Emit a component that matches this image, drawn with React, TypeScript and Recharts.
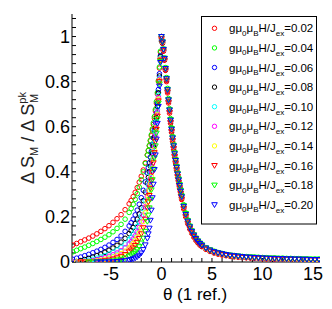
import React from 'react';
import { Scatter, ScatterChart, XAxis, YAxis } from 'recharts';

// theta (1 ref.) sample positions shared by all field series
const theta = [
  -8.8, -8.4, -8, -7.6, -7.2, -6.8, -6.4, -6, -5.6, -5.2, -4.8, -4.4, -4, -3.6, -3.2,
  -3, -2.8, -2.6, -2.4, -2.2, -2, -1.8, -1.6, -1.4,
  -1.3, -1.2, -1.1, -1, -0.9, -0.8, -0.7, -0.6, -0.5, -0.4, -0.3, -0.2, -0.1,
  0,
  0.1, 0.2, 0.3, 0.4, 0.5, 0.6, 0.7, 0.8, 0.9, 1, 1.1, 1.2, 1.3,
  1.4, 1.5, 1.6, 1.7, 1.8, 1.9, 2,
  2.2, 2.4, 2.6, 2.8, 3, 3.2, 3.4, 3.6, 3.8, 4,
  4.4, 4.8, 5.2, 5.6, 6, 6.4, 6.8, 7.2, 7.6, 8, 8.4, 8.8, 9.2, 9.6, 10, 10.4, 10.8, 11.2, 11.6, 12,
  12.4, 12.8, 13.2, 13.6, 14, 14.4, 14.8, 15.2, 15.6,
];

const h002 = [
  0.075, 0.082, 0.09, 0.098, 0.106, 0.115, 0.125, 0.136, 0.148, 0.161, 0.176, 0.192, 0.21, 0.232, 0.258,
  0.273, 0.29, 0.309, 0.33, 0.354, 0.38, 0.408, 0.44, 0.475,
  0.494, 0.515, 0.537, 0.56, 0.585, 0.61, 0.638, 0.67, 0.705, 0.745, 0.8, 0.86, 0.93,
  1,
  0.97, 0.935, 0.895, 0.85, 0.8, 0.75, 0.705, 0.66, 0.615, 0.575, 0.535, 0.5, 0.465,
  0.435, 0.405, 0.375, 0.35, 0.325, 0.3, 0.277,
  0.235, 0.2, 0.17, 0.146, 0.127, 0.11, 0.096, 0.085, 0.075, 0.068,
  0.056, 0.047, 0.04, 0.035, 0.031, 0.028, 0.025, 0.023, 0.021, 0.02, 0.019, 0.018, 0.017, 0.016, 0.015,
  0.014, 0.014, 0.013, 0.013, 0.012, 0.012, 0.011, 0.011, 0.01, 0.01, 0.01, 0.009, 0.009, 0.009,
];
const h004 = [
  0.045, 0.052, 0.059, 0.066, 0.074, 0.082, 0.091, 0.1, 0.11, 0.121, 0.134, 0.149, 0.167, 0.19, 0.22,
  0.237, 0.256, 0.278, 0.303, 0.332, 0.365, 0.4, 0.437, 0.474,
  0.495, 0.517, 0.54, 0.565, 0.59, 0.617, 0.645, 0.677, 0.712, 0.752, 0.805, 0.865, 0.935,
  0.99,
  0.978, 0.945, 0.905, 0.862, 0.818, 0.77, 0.725, 0.68, 0.636, 0.596, 0.557, 0.522, 0.488,
  0.457, 0.427, 0.398, 0.372, 0.347, 0.323, 0.298,
  0.254, 0.218, 0.187, 0.161, 0.14, 0.122, 0.107, 0.095, 0.085, 0.077,
  0.064, 0.055, 0.048, 0.042, 0.038, 0.034, 0.031, 0.029, 0.027, 0.025, 0.024, 0.023, 0.022, 0.021, 0.02,
  0.019, 0.018, 0.018, 0.017, 0.017, 0.016, 0.016, 0.015, 0.015, 0.014, 0.014, 0.013, 0.013, 0.013,
];
const h006 = [
  0.012, 0.017, 0.022, 0.028, 0.034, 0.041, 0.048, 0.056, 0.065, 0.075, 0.087, 0.1, 0.116, 0.136, 0.16,
  0.174, 0.19, 0.209, 0.23, 0.256, 0.285, 0.318, 0.355, 0.395,
  0.418, 0.44, 0.465, 0.49, 0.52, 0.55, 0.585, 0.62, 0.66, 0.705, 0.765, 0.835, 0.915,
  1,
  0.975, 0.94, 0.9, 0.855, 0.81, 0.76, 0.715, 0.67, 0.625, 0.585, 0.545, 0.51, 0.475,
  0.445, 0.415, 0.385, 0.36, 0.335, 0.31, 0.285,
  0.243, 0.208, 0.178, 0.153, 0.133, 0.116, 0.102, 0.09, 0.08, 0.072,
  0.06, 0.051, 0.044, 0.039, 0.035, 0.031, 0.028, 0.026, 0.024, 0.022, 0.021, 0.02, 0.019, 0.018, 0.017,
  0.016, 0.015, 0.015, 0.014, 0.014, 0.013, 0.013, 0.012, 0.012, 0.011, 0.011, 0.01, 0.01, 0.01,
];
const h008 = [
  0, 0.002, 0.006, 0.011, 0.016, 0.022, 0.028, 0.035, 0.043, 0.052, 0.062, 0.074, 0.088, 0.105, 0.126,
  0.139, 0.153, 0.17, 0.19, 0.213, 0.24, 0.272, 0.31, 0.35,
  0.375, 0.4, 0.425, 0.45, 0.482, 0.515, 0.555, 0.595, 0.64, 0.69, 0.75, 0.825, 0.91,
  0.98,
  0.972, 0.938, 0.898, 0.853, 0.807, 0.758, 0.712, 0.668, 0.622, 0.582, 0.543, 0.507, 0.472,
  0.442, 0.412, 0.383, 0.357, 0.332, 0.307, 0.283,
  0.241, 0.206, 0.176, 0.151, 0.131, 0.115, 0.101, 0.089, 0.079, 0.071,
  0.059, 0.05, 0.043, 0.038, 0.034, 0.031, 0.028, 0.026, 0.024, 0.022, 0.021, 0.02, 0.019, 0.018, 0.017,
  0.016, 0.015, 0.015, 0.014, 0.013, 0.013, 0.012, 0.012, 0.011, 0.011, 0.011, 0.01, 0.01, 0.01,
];
const h010 = [
  0, 0, 0.001, 0.004, 0.008, 0.012, 0.017, 0.022, 0.028, 0.035, 0.043, 0.053, 0.065, 0.08, 0.099,
  0.11, 0.124, 0.14, 0.158, 0.18, 0.205, 0.236, 0.272, 0.315,
  0.34, 0.365, 0.392, 0.42, 0.455, 0.49, 0.53, 0.575, 0.622, 0.675, 0.74, 0.815, 0.905,
  1,
  0.976, 0.942, 0.902, 0.857, 0.812, 0.762, 0.717, 0.672, 0.627, 0.587, 0.547, 0.512, 0.477,
  0.447, 0.416, 0.386, 0.361, 0.336, 0.311, 0.286,
  0.244, 0.209, 0.179, 0.154, 0.134, 0.117, 0.103, 0.091, 0.081, 0.073,
  0.061, 0.052, 0.045, 0.04, 0.036, 0.032, 0.029, 0.027, 0.025, 0.023, 0.022, 0.021, 0.02, 0.019, 0.018,
  0.017, 0.016, 0.016, 0.015, 0.015, 0.014, 0.014, 0.013, 0.013, 0.012, 0.012, 0.011, 0.011, 0.011,
];
const h012 = [
  0, 0, 0, 0.001, 0.003, 0.006, 0.01, 0.014, 0.019, 0.025, 0.032, 0.04, 0.05, 0.063, 0.08,
  0.09, 0.102, 0.116, 0.133, 0.153, 0.178, 0.208, 0.245, 0.29,
  0.315, 0.34, 0.37, 0.4, 0.435, 0.47, 0.512, 0.56, 0.61, 0.665, 0.73, 0.81, 0.9,
  0.99,
  0.974, 0.939, 0.899, 0.854, 0.809, 0.759, 0.714, 0.669, 0.624, 0.584, 0.544, 0.509, 0.474,
  0.444, 0.414, 0.384, 0.359, 0.334, 0.309, 0.284,
  0.242, 0.207, 0.177, 0.152, 0.132, 0.116, 0.102, 0.09, 0.08, 0.072,
  0.06, 0.051, 0.044, 0.039, 0.035, 0.031, 0.028, 0.026, 0.024, 0.022, 0.021, 0.02, 0.019, 0.018, 0.017,
  0.016, 0.015, 0.015, 0.014, 0.014, 0.013, 0.013, 0.012, 0.012, 0.011, 0.011, 0.01, 0.01, 0.01,
];
const h014 = [
  null, 0, 0, 0, 0.001, 0.002, 0.005, 0.008, 0.012, 0.017, 0.022, 0.029, 0.037, 0.048, 0.062,
  0.071, 0.082, 0.095, 0.11, 0.129, 0.152, 0.18, 0.218, 0.265,
  0.29, 0.318, 0.348, 0.38, 0.415, 0.455, 0.498, 0.545, 0.597, 0.655, 0.722, 0.805, 0.9,
  1,
  0.975, 0.941, 0.901, 0.856, 0.811, 0.761, 0.716, 0.671, 0.626, 0.586, 0.546, 0.511, 0.476,
  0.446, 0.415, 0.385, 0.36, 0.335, 0.31, 0.285,
  0.243, 0.208, 0.178, 0.153, 0.133, 0.116, 0.102, 0.09, 0.08, 0.072,
  0.06, 0.051, 0.044, 0.039, 0.035, 0.031, 0.028, 0.026, 0.024, 0.022, 0.021, 0.02, 0.019, 0.018, 0.017,
  0.016, 0.015, 0.015, 0.014, 0.014, 0.013, 0.013, 0.012, 0.012, 0.011, 0.011, 0.01, 0.01, 0.01,
];
const h016 = [
  null, null, 0, 0, 0, 0, 0.001, 0.003, 0.006, 0.009, 0.013, 0.018, 0.025, 0.033, 0.045,
  0.053, 0.062, 0.073, 0.087, 0.104, 0.125, 0.152, 0.19, 0.24,
  0.267, 0.295, 0.327, 0.36, 0.398, 0.44, 0.485, 0.535, 0.588, 0.647, 0.715, 0.8, 0.895,
  0.99,
  0.973, 0.937, 0.896, 0.851, 0.805, 0.755, 0.71, 0.665, 0.62, 0.58, 0.54, 0.505, 0.47,
  0.44, 0.41, 0.38, 0.355, 0.33, 0.305, 0.28,
  0.238, 0.203, 0.173, 0.149, 0.129, 0.113, 0.099, 0.087, 0.077, 0.07,
  0.058, 0.049, 0.042, 0.037, 0.033, 0.03, 0.027, 0.025, 0.023, 0.021, 0.02, 0.019, 0.018, 0.017, 0.016,
  0.015, 0.015, 0.014, 0.014, 0.013, 0.013, 0.012, 0.012, 0.011, 0.011, 0.01, 0.01, 0.01, 0.01,
];
const h018 = [
  null, null, null, null, 0, 0, 0, 0, 0.001, 0.003, 0.005, 0.008, 0.012, 0.018, 0.026,
  0.031, 0.037, 0.045, 0.055, 0.068, 0.084, 0.106, 0.136, 0.18,
  0.208, 0.24, 0.278, 0.32, 0.365, 0.412, 0.462, 0.515, 0.572, 0.635, 0.705, 0.79, 0.89,
  1,
  0.977, 0.944, 0.904, 0.86, 0.815, 0.766, 0.721, 0.676, 0.632, 0.592, 0.553, 0.518, 0.484,
  0.453, 0.423, 0.393, 0.368, 0.343, 0.318, 0.293,
  0.25, 0.215, 0.184, 0.159, 0.138, 0.121, 0.106, 0.094, 0.084, 0.076,
  0.063, 0.054, 0.047, 0.041, 0.037, 0.033, 0.03, 0.028, 0.026, 0.024, 0.023, 0.022, 0.021, 0.02, 0.019,
  0.018, 0.017, 0.017, 0.016, 0.016, 0.015, 0.015, 0.014, 0.014, 0.013, 0.013, 0.012, 0.012, 0.012,
];
const h020 = [
  null, null, null, null, null, null, 0, 0, 0, 0, 0.001, 0.002, 0.004, 0.006, 0.009,
  0.011, 0.014, 0.018, 0.023, 0.03, 0.04, 0.055, 0.076, 0.105,
  0.125, 0.15, 0.185, 0.23, 0.285, 0.345, 0.41, 0.475, 0.545, 0.615, 0.69, 0.78, 0.885,
  1,
  0.976, 0.943, 0.903, 0.858, 0.813, 0.764, 0.719, 0.674, 0.629, 0.589, 0.55, 0.515, 0.48,
  0.45, 0.42, 0.39, 0.364, 0.339, 0.314, 0.289,
  0.247, 0.211, 0.181, 0.156, 0.136, 0.119, 0.104, 0.092, 0.082, 0.074,
  0.062, 0.053, 0.046, 0.041, 0.037, 0.033, 0.03, 0.028, 0.026, 0.024, 0.022, 0.021, 0.02, 0.019, 0.018,
  0.017, 0.016, 0.016, 0.015, 0.015, 0.014, 0.014, 0.013, 0.013, 0.012, 0.012, 0.011, 0.011, 0.011,
];

const seriesValues = [h002, h004, h006, h008, h010, h012, h014, h016, h018, h020];
const fieldLabels = ['0.02', '0.04', '0.06', '0.08', '0.10', '0.12', '0.14', '0.16', '0.18', '0.20'];
const seriesColors = ['#ff0000', '#00ff00', '#0000ff', '#000000', '#00ffff', '#ff00ff', '#ffff00', '#ff0000', '#00ff00', '#0000ff'];
const seriesMarkers = ['o', 'o', 'o', 'o', 'o', 'o', 'o', 'v', 'v', 'v'];

const xTicks = [-8, -7, -6, -5, -4, -3, -2, -1, 0, 1, 2, 3, 4, 5, 6, 7, 8, 9, 10, 11, 12, 13, 14, 15];
const xMajor = [-5, 0, 5, 10, 15];
const yTicks = [
  0, 0.04, 0.08, 0.12, 0.16, 0.2, 0.24, 0.28, 0.32, 0.36, 0.4, 0.44, 0.48, 0.52, 0.56, 0.6, 0.64, 0.68,
  0.72, 0.76, 0.8, 0.84, 0.88, 0.92, 0.96, 1, 1.04, 1.08,
];
const yMajor = [0, 0.2, 0.4, 0.6, 0.8, 1];

const FONT = '"Liberation Sans", Arial, Helvetica, sans-serif';
const X_DOMAIN = [-8.86, 15.7];
const Y_DOMAIN = [0, 1.1];

const markerShape = (color: string, marker: string) => (props: any) => {
  const { cx, cy } = props;
  if (cx == null || cy == null) return <g />;
  if (marker === 'v') {
    return (
      <polygon
        points={`${cx - 2.8},${cy - 2} ${cx + 2.8},${cy - 2} ${cx},${cy + 2.8}`}
        fill="none"
        stroke={color}
        strokeWidth={1}
      />
    );
  }
  return <circle cx={cx} cy={cy} r={2.3} fill="none" stroke={color} strokeWidth={1} />;
};

const fmtX = (v: number) => (xMajor.includes(v) ? String(v) : '');
const fmtY = (v: number) => {
  const hit = yMajor.find((m) => Math.abs(m - v) < 1e-6);
  return hit === undefined ? '' : String(hit);
};

const LegendMarker = ({ x, y, color, marker }: { x: number; y: number; color: string; marker: string }) =>
  marker === 'v' ? (
    <polygon
      points={`${x - 2.8},${y - 2} ${x + 2.8},${y - 2} ${x},${y + 2.8}`}
      fill="none"
      stroke={color}
      strokeWidth={1}
    />
  ) : (
    <circle cx={x} cy={y} r={2.2} fill="none" stroke={color} strokeWidth={1} />
  );

const Overlay = () => (
  <svg width={332} height={309} style={{ position: 'absolute', left: 0, top: 0, pointerEvents: 'none' }}>
    {/* legend */}
    <rect x={201.5} y={16.5} width={115} height={207.5} fill="#fff" stroke="#000" strokeWidth={1} />
    {fieldLabels.map((label, i) => {
      const yy = 32.3 + i * 19.6;
      return (
        <g key={label}>
          <LegendMarker x={214.5} y={yy - 4} color={seriesColors[i]} marker={seriesMarkers[i]} />
          <text x={229} y={yy} fontFamily={FONT} fontSize={11.5} fill="#000">
            gμ
            <tspan fontSize={8} dy={3.5}>0</tspan>
            <tspan dy={-3.5}>μ</tspan>
            <tspan fontSize={8} dy={3.5}>B</tspan>
            <tspan dy={-3.5}>H/J</tspan>
            <tspan fontSize={8} dy={4}>ex</tspan>
            <tspan dy={-4}>{`=${label}`}</tspan>
          </text>
        </g>
      );
    })}
    {/* axis titles */}
    <text x={195} y={300} textAnchor="middle" fontFamily={FONT} fontSize={17} fill="#000">
      θ (1 ref.)
    </text>
    <text transform="translate(34,138) rotate(-90)" textAnchor="middle" fontFamily={FONT} fontSize={18} fill="#222">
      Δ S
      <tspan fontSize={11} dy={4}>M</tspan>
      <tspan dy={-4}> / Δ S</tspan>
      <tspan fontSize={11} dy={-8}>pk</tspan>
      <tspan fontSize={11} dx={-11} dy={12}>M</tspan>
    </text>
  </svg>
);

export default function App() {
  return (
    <div style={{ position: 'absolute', left: 0, top: 0, width: 332, height: 309, background: '#fff' }}>
      <ScatterChart width={332} height={309} margin={{ top: 14, right: 12, bottom: 17, left: 0 }}>
        <XAxis
          xAxisId="b"
          type="number"
          dataKey="x"
          domain={X_DOMAIN}
          allowDataOverflow
          ticks={xTicks}
          interval={0}
          tickFormatter={fmtX}
          tickSize={-4}
          tickMargin={9}
          height={30}
          stroke="#000"
          tick={{ fill: '#000', fontSize: 18, fontFamily: FONT }}
        />
        <XAxis
          xAxisId="t"
          orientation="top"
          type="number"
          domain={X_DOMAIN}
          allowDataOverflow
          ticks={xTicks}
          interval={0}
          tick={false}
          tickSize={-4}
          height={0}
          stroke="#000"
        />
        <YAxis
          yAxisId="l"
          type="number"
          dataKey="y"
          domain={Y_DOMAIN}
          allowDataOverflow
          ticks={yTicks}
          interval={0}
          tickFormatter={fmtY}
          tickSize={-4}
          tickMargin={6}
          width={72}
          stroke="#000"
          tick={{ fill: '#000', fontSize: 18, fontFamily: FONT }}
        />
        <YAxis
          yAxisId="r"
          orientation="right"
          type="number"
          domain={Y_DOMAIN}
          allowDataOverflow
          ticks={yTicks}
          interval={0}
          tick={false}
          tickSize={-4}
          width={0}
          stroke="#000"
        />
        {seriesValues.map((vals, i) => (
          <Scatter
            key={fieldLabels[i]}
            xAxisId="b"
            yAxisId="l"
            data={theta
              .map((x, j) => ({ x, y: vals[j] }))
              .filter((p) => p.y !== null && p.y !== undefined)}
            shape={markerShape(seriesColors[i], seriesMarkers[i])}
            isAnimationActive={false}
          />
        ))}
      </ScatterChart>
      <Overlay />
    </div>
  );
}
